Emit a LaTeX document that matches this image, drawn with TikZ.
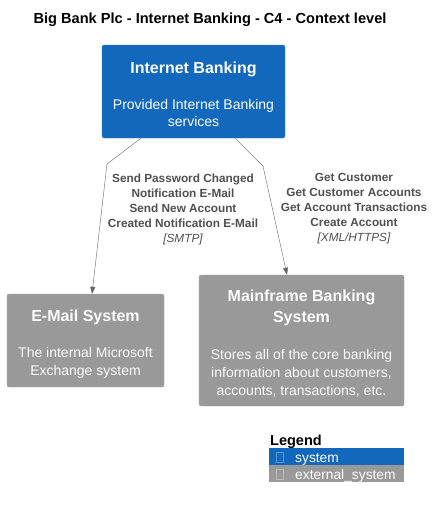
\documentclass[tikz,border=0pt]{standalone}
\usepackage{fontspec}
\setmainfont{Liberation Sans}
\usetikzlibrary{arrows.meta}

\definecolor{sysblue}{HTML}{1168BD}
\definecolor{extgray}{HTML}{999999}
\definecolor{relgray}{HTML}{666666}
\definecolor{labgray}{HTML}{505050}

\newcommand{\systitle}[1]{{\fontsize{16}{20}\selectfont\bfseries #1}}

\begin{document}
\begin{tikzpicture}[x=1pt, y=-1pt,
    system/.style={draw=sysblue!80!white, fill=sysblue, rounded corners=2pt,
                   text=white, align=center, inner sep=0pt,
                   font=\fontsize{14}{17.5}\selectfont},
    extsys/.style={draw=extgray!90!white, fill=extgray, rounded corners=2pt,
                   text=white!95!extgray, align=center, inner sep=0pt,
                   font=\fontsize{14}{17.5}\selectfont},
    rel/.style={draw=relgray, -{Triangle[length=7pt,width=5pt]}},
    rellabel/.style={text=labgray, align=center, font=\fontsize{11.8}{15}\selectfont\bfseries},
    legrow/.style={anchor=west, minimum width=135pt, minimum height=17pt, inner sep=0pt},
    legicon/.style={draw=white!30!#1, fill=#1, minimum width=7pt, minimum height=10pt, inner sep=0pt},
    legtext/.style={anchor=base west, text=white, font=\fontsize{13.8}{16}\selectfont, inner sep=0pt},
  ]
  \path[fill=white, use as bounding box] (0,0) rectangle (434,509);

  % title
  \node (title) at (210,20) {\fontsize{14.6}{17}\selectfont\bfseries Big Bank Plc - Internet Banking - C4 - Context level};

  % systems
  \node[system, minimum width=183pt, minimum height=93pt] (ib) at (193.5,91.5)
    {\systitle{\rule{0pt}{17pt}Internet Banking}\\[18.5pt]
     Provided Internet Banking\\ services};
  \node[extsys, minimum width=157pt, minimum height=93pt] (mail) at (85.5,340.5)
    {\systitle{\rule{0pt}{18pt}E-Mail System}\\[19pt]
     The internal Microsoft\\ Exchange system};
  \node[extsys, minimum width=205pt, minimum height=131pt, font=\fontsize{14}{18}\selectfont] (mf) at (301.5,340.5)
    {\systitle{\rule{0pt}{18pt}Mainframe Banking}\\[2.5pt] \systitle{System}\\[19pt]
     Stores all of the core banking\\ information about customers,\\ accounts, transactions, etc.};

  % relations
  \coordinate (bend1) at (107,164);
  \coordinate (bend2) at (263,166);
  \draw[rel] ([xshift=-52.5pt]ib.south) -- (bend1) -- ([xshift=6.5pt]mail.north);
  \draw[rel] ([xshift=41.5pt]ib.south) -- (bend2) -- ([xshift=-14.5pt]mf.north);

  \node[rellabel] (lab1) at (183,209) {Send Password Changed\\ Notification E-Mail\\ Send New Account\\ Created Notification E-Mail\\ {\mdseries\itshape [SMTP]}};
  \node[rellabel] (lab2) at (354,209) {Get Customer\\ Get Customer Accounts\\ Get Account Transactions\\ Create Account\\ {\mdseries\itshape [XML/HTTPS]}};

  % legend
  \node[anchor=base west, inner sep=0pt] (legend) at (270,445) {\fontsize{14.5}{17}\selectfont\bfseries Legend};
  \node[legrow, fill=sysblue] (legsys) at (269,456.5) {};
  \node[legrow, fill=extgray] (legext) at (269,473.5) {};
  \node[legicon=sysblue] (iconsys) at (280,457) {};
  \node[legicon=extgray] (iconext) at (280,474) {};
  \node[legtext] (txtsys) at (295,462) {system};
  \node[legtext] (txtext) at (295,479) {external\_system};
\end{tikzpicture}
\end{document}
